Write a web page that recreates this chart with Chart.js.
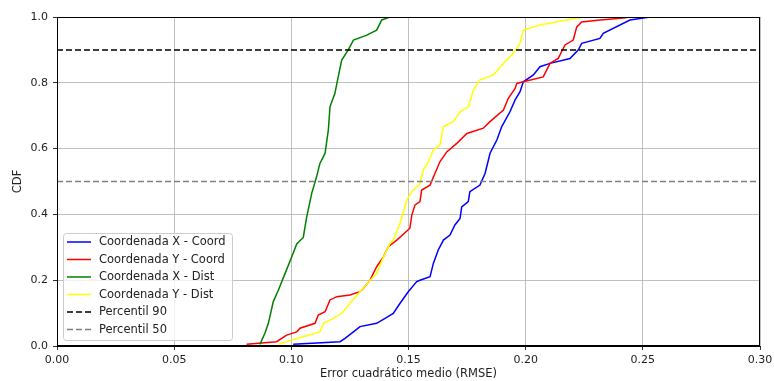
<!DOCTYPE html>
<html>
<head>
<meta charset="utf-8">
<script src="https://cdn.jsdelivr.net/npm/chart.js@4.4.1/dist/chart.umd.min.js"></script>
<style>
  html, body { margin: 0; padding: 0; background: #fff; }
  #wrap { width: 774px; height: 381px; }
</style>
</head>
<body>
<div id="wrap"><canvas id="cdf"></canvas></div>
<script>
// RMSE values (x) and cumulative fraction (y) for each curve
const xCoordErr = [0.1008, 0.1208, 0.1229, 0.1265, 0.1293, 0.1364, 0.1400, 0.1435, 0.1464, 0.1499, 0.1535, 0.1549, 0.1592, 0.1606, 0.1627, 0.1649, 0.1677, 0.1698, 0.1720, 0.1727, 0.1755, 0.1762, 0.1805, 0.1827, 0.1848, 0.1877, 0.1898, 0.1933, 0.1955, 0.1976, 0.1990, 0.2033, 0.2061, 0.2104, 0.2189, 0.2225, 0.2239, 0.2317, 0.2331, 0.2445, 0.2531];
const xCoordCdf = [0.005, 0.013, 0.023, 0.043, 0.059, 0.069, 0.084, 0.099, 0.130, 0.165, 0.196, 0.200, 0.211, 0.251, 0.292, 0.322, 0.337, 0.368, 0.388, 0.423, 0.439, 0.469, 0.489, 0.525, 0.586, 0.626, 0.667, 0.712, 0.748, 0.773, 0.803, 0.824, 0.849, 0.859, 0.874, 0.900, 0.920, 0.935, 0.950, 0.991, 1.000];

const yCoordErr = [0.0809, 0.0937, 0.0980, 0.1023, 0.1037, 0.1101, 0.1115, 0.1144, 0.1165, 0.1194, 0.1250, 0.1293, 0.1307, 0.1336, 0.1364, 0.1393, 0.1414, 0.1450, 0.1506, 0.1514, 0.1528, 0.1549, 0.1556, 0.1592, 0.1613, 0.1634, 0.1663, 0.1706, 0.1749, 0.1819, 0.1848, 0.1905, 0.1926, 0.1955, 0.1962, 0.1990, 0.2075, 0.2104, 0.2139, 0.2168, 0.2203, 0.2218, 0.2239, 0.2317, 0.2417, 0.2445];
const yCoordCdf = [0.005, 0.013, 0.033, 0.043, 0.054, 0.069, 0.094, 0.104, 0.140, 0.150, 0.155, 0.165, 0.175, 0.200, 0.241, 0.271, 0.302, 0.322, 0.358, 0.398, 0.429, 0.439, 0.474, 0.489, 0.525, 0.560, 0.590, 0.616, 0.646, 0.662, 0.682, 0.717, 0.753, 0.783, 0.798, 0.803, 0.818, 0.859, 0.874, 0.915, 0.930, 0.970, 0.985, 0.991, 0.997, 1.000];

const xDistErr = [0.0866, 0.0888, 0.0902, 0.0923, 0.0945, 0.0973, 0.1001, 0.1023, 0.1051, 0.1065, 0.1087, 0.1108, 0.1122, 0.1144, 0.1158, 0.1165, 0.1186, 0.1200, 0.1215, 0.1243, 0.1265, 0.1322, 0.1364, 0.1386, 0.1420];
const xDistCdf = [0.005, 0.040, 0.069, 0.135, 0.170, 0.220, 0.270, 0.310, 0.330, 0.390, 0.464, 0.515, 0.555, 0.586, 0.657, 0.727, 0.768, 0.818, 0.869, 0.900, 0.930, 0.945, 0.960, 0.991, 1.000];

const yDistErr = [0.0945, 0.1023, 0.1122, 0.1137, 0.1180, 0.1222, 0.1250, 0.1293, 0.1336, 0.1364, 0.1393, 0.1421, 0.1435, 0.1464, 0.1493, 0.1514, 0.1549, 0.1563, 0.1585, 0.1606, 0.1634, 0.1649, 0.1691, 0.1720, 0.1755, 0.1777, 0.1805, 0.1862, 0.1905, 0.1947, 0.1976, 0.1990, 0.2061, 0.2175, 0.2246];
const yDistCdf = [0.005, 0.023, 0.043, 0.069, 0.084, 0.104, 0.130, 0.165, 0.200, 0.220, 0.270, 0.312, 0.322, 0.373, 0.444, 0.469, 0.494, 0.535, 0.560, 0.596, 0.611, 0.667, 0.682, 0.712, 0.727, 0.778, 0.809, 0.824, 0.859, 0.890, 0.920, 0.960, 0.976, 0.991, 1.000];

const p90 = 0.9;
const p50 = 0.5;

const seriesNames = ["Coordenada X - Coord", "Coordenada Y - Coord", "Coordenada X - Dist", "Coordenada Y - Dist", "Percentil 90", "Percentil 50"];
const xTicks = [0, 0.05, 0.10, 0.15, 0.20, 0.25, 0.30];
const yTicks = [0, 0.2, 0.4, 0.6, 0.8, 1.0];

const toPoints = (xs, ys) => xs.map((x, i) => ({ x: x, y: ys[i] }));

const FONT = "'DejaVu Sans', sans-serif";

const curves = [
  { label: seriesNames[0], data: toPoints(xCoordErr, xCoordCdf), borderColor: "#0000ff" },
  { label: seriesNames[1], data: toPoints(yCoordErr, yCoordCdf), borderColor: "#ff0000" },
  { label: seriesNames[2], data: toPoints(xDistErr, xDistCdf), borderColor: "#008000" },
  { label: seriesNames[3], data: toPoints(yDistErr, yDistCdf), borderColor: "#ffff00" },
  { label: seriesNames[4], data: [{ x: xTicks[0], y: p90 }, { x: xTicks[xTicks.length - 1], y: p90 }], borderColor: "#000000", borderDash: [6, 3] },
  { label: seriesNames[5], data: [{ x: xTicks[0], y: p50 }, { x: xTicks[xTicks.length - 1], y: p50 }], borderColor: "#808080", borderDash: [6, 3] },
];

// later datasets on top, like the plotting order
const datasets = curves.map((c, i) => Object.assign({
  showLine: true,
  borderWidth: 1.5,
  pointRadius: 0,
  fill: false,
  tension: 0,
  order: curves.length - i,
}, c));

// frame on all four sides + legend box in the lower left corner
const framePlugin = {
  id: "frameAndLegend",
  afterDatasetsDraw(chart) {
    const { ctx, chartArea: a } = chart;
    ctx.save();
    ctx.strokeStyle = "#000";
    ctx.lineWidth = 1;
    ctx.strokeRect(a.left + 0.5, a.top + 0.5, a.right - a.left - 1, a.bottom - a.top - 1);

    const bx = a.left + 6, bw = 169, bh = 107;
    const by = a.bottom - 6 - bh;
    ctx.fillStyle = "rgba(255,255,255,0.8)";
    ctx.strokeStyle = "#cccccc";
    ctx.beginPath();
    ctx.roundRect(bx + 0.5, by + 0.5, bw, bh, 3);
    ctx.fill();
    ctx.stroke();

    ctx.font = "11.5px " + FONT;
    ctx.textBaseline = "middle";
    chart.data.datasets.forEach((ds, i) => {
      const yy = by + 9 + i * 17.5;
      ctx.strokeStyle = ds.borderColor;
      ctx.lineWidth = 1.5;
      ctx.setLineDash(ds.borderDash || []);
      ctx.beginPath();
      ctx.moveTo(bx + 4, yy);
      ctx.lineTo(bx + 28, yy);
      ctx.stroke();
      ctx.setLineDash([]);
      ctx.fillStyle = "#222";
      ctx.fillText(ds.label, bx + 36, yy + 0.5);
    });
    ctx.restore();
  }
};

const gridStyle = { color: "#b0b0b0", lineWidth: 0.8, tickLength: 4, tickColor: "#000", drawTicks: true };

new Chart(document.getElementById("cdf"), {
  type: "scatter",
  data: { datasets: datasets },
  options: {
    responsive: true,
    maintainAspectRatio: false,
    animation: false,
    layout: { padding: { top: 17, right: 14, left: 0, bottom: 0 } },
    plugins: { legend: { display: false }, tooltip: { enabled: false } },
    scales: {
      x: {
        type: "linear",
        min: xTicks[0],
        max: xTicks[xTicks.length - 1],
        afterBuildTicks: (s) => { s.ticks = xTicks.map(v => ({ value: v })); },
        afterFit: (s) => { s.height = 35; s.paddingLeft = 0; s.paddingRight = 0; },
        grid: gridStyle,
        border: { color: "#000", width: 1 },
        ticks: { color: "#222", font: { family: FONT, size: 11 }, padding: 4, maxRotation: 0, callback: v => v.toFixed(2) },
        title: { display: true, text: "Error cuadrático medio (RMSE)", color: "#222", font: { family: FONT, size: 11.5 }, padding: { top: 0, bottom: 0 } },
      },
      y: {
        type: "linear",
        min: yTicks[0],
        max: yTicks[yTicks.length - 1],
        afterBuildTicks: (s) => { s.ticks = yTicks.map(v => ({ value: v })); },
        afterFit: (s) => { s.width = 57; s.paddingTop = 0; s.paddingBottom = 0; },
        grid: gridStyle,
        border: { color: "#000", width: 1 },
        ticks: { color: "#222", font: { family: FONT, size: 11 }, padding: 5, callback: v => v.toFixed(1) },
        title: { display: true, text: "CDF", color: "#222", font: { family: FONT, size: 11.5 }, padding: { top: 11, bottom: 0 } },
      },
    },
  },
  plugins: [framePlugin],
});
</script>
</body>
</html>
